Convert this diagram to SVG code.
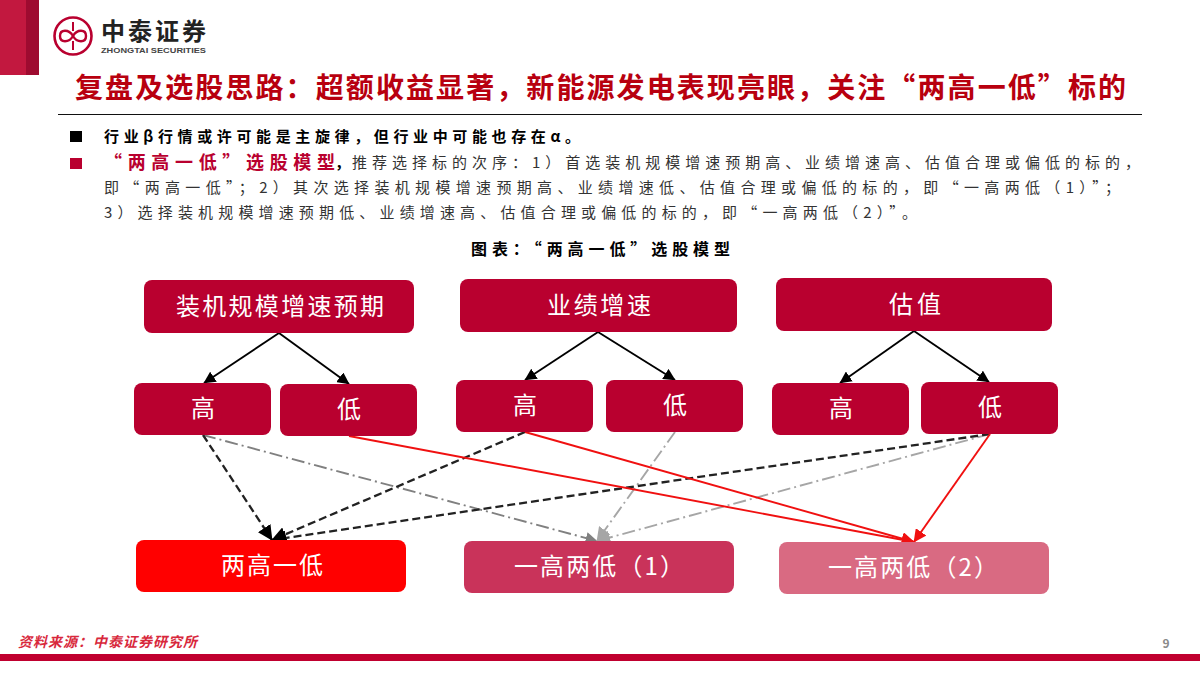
<svg xmlns="http://www.w3.org/2000/svg" width="1200" height="675" viewBox="0 0 1200 675">
<style>
text{font-family:"Noto Sans CJK SC","Liberation Sans",sans-serif}
.box{stroke:none}
.c{fill:#b9002f}
.lab{fill:#fff;font-size:24px;text-anchor:middle}
.body{font-size:15px;fill:#333}
.bold{font-size:15px;font-weight:700;fill:#000}
.conn{fill:none;stroke-width:1.9}
.k{stroke:#000}
.d{stroke:#222;stroke-width:2.300;stroke-dasharray:8 4}
.g1{stroke:#808080;stroke-dasharray:13 4 2 4}
.g2{stroke:#a6a6a6;stroke-dasharray:13 4 2 4}
.r{stroke:#f01010}
</style>
<defs>
<marker id="ak" viewBox="0 0 10 10" refX="9.5" refY="5" markerWidth="12" markerHeight="12" markerUnits="userSpaceOnUse" orient="auto"><path d="M0 0L10 5L0 10z" fill="#000"/></marker>
<marker id="akd" viewBox="0 0 10 10" refX="9.5" refY="5" markerWidth="15" markerHeight="15" markerUnits="userSpaceOnUse" orient="auto"><path d="M0 0L10 5L0 10z" fill="#000"/></marker>
<marker id="ag1" viewBox="0 0 10 10" refX="9.5" refY="5" markerWidth="12" markerHeight="12" markerUnits="userSpaceOnUse" orient="auto"><path d="M0 0L10 5L0 10z" fill="#808080"/></marker>
<marker id="ag2" viewBox="0 0 10 10" refX="9.5" refY="5" markerWidth="14" markerHeight="14" markerUnits="userSpaceOnUse" orient="auto"><path d="M0 0L10 5L0 10z" fill="#a6a6a6"/></marker>
<marker id="ar" viewBox="0 0 10 10" refX="9.5" refY="5" markerWidth="13" markerHeight="13" markerUnits="userSpaceOnUse" orient="auto"><path d="M0 0L10 5L0 10z" fill="#f01010"/></marker>
</defs>
<rect width="1200" height="675" fill="#fff"/>
<rect x="0" y="0" width="26" height="75" fill="#c2183f"/>
<rect x="26" y="0" width="13" height="75" fill="#9e0b30"/>
<g id="logo">
<circle cx="73" cy="36" r="18.500" fill="none" stroke="#b9002f" stroke-width="2.600"/>
<path d="M73 22V31M73 41V50" stroke="#b9002f" stroke-width="2" fill="none"/>
<path d="M73 36C69 29 60 29 60 36C60 43 69 43 73 36C77 29 86 29 86 36C86 43 77 43 73 36Z" fill="none" stroke="#b9002f" stroke-width="2.400"/>
<text x="101" y="40" font-size="24" font-weight="700" fill="#222" textLength="105">中泰证券</text>
<text x="101" y="52.500" font-size="6.500" font-weight="700" fill="#444" textLength="105" lengthAdjust="spacingAndGlyphs" style="font-family:'Liberation Sans',sans-serif">ZHONGTAI SECURITIES</text>
</g>
<text id="title" x="75" y="98" font-size="28" font-weight="700" fill="#b8000f" textLength="1051">复盘及选股思路&#xFF1A;超额收益显著&#xFF0C;新能源发电表现亮眼&#xFF0C;关注&#x201C;两高一低&#x201D;标的</text>
<line x1="58" y1="114.500" x2="1142" y2="114.500" stroke="#111" stroke-width="1.200"/>
<g id="bullets">
<rect x="70" y="131" width="12" height="11" fill="#000"/>
<rect x="70" y="158" width="12" height="11" fill="#b9002f"/>
<text class="bold" x="104" y="142" textLength="476">行业β行情或许可能是主旋律&#xFF0C;但行业中可能也存在α。</text>
<text class="bold" x="104" y="169" style="fill:#b9002f;font-size:18px" textLength="231">&#x201C;两高一低&#x201D;选股模型</text>
<text class="bold" x="335" y="168">&#xFF0C;</text>
<text class="body" x="352" y="168" textLength="788">推荐选择标的次序&#xFF1A;1&#xFF09;首选装机规模增速预期高、业绩增速高、估值合理或偏低的标的&#xFF0C;</text>
<text class="body" x="104" y="193" textLength="1016">即&#x201C;两高一低&#x201D;&#xFF1B;2&#xFF09;其次选择装机规模增速预期高、业绩增速低、估值合理或偏低的标的&#xFF0C;即&#x201C;一高两低&#xFF08;1&#xFF09;&#x201D;&#xFF1B;</text>
<text class="body" x="104" y="218" textLength="813">3&#xFF09;选择装机规模增速预期低、业绩增速高、估值合理或偏低的标的&#xFF0C;即&#x201C;一高两低&#xFF08;2&#xFF09;&#x201D;。</text>
</g>
<text id="caption" x="471" y="255" font-size="16" font-weight="700" fill="#000" textLength="259">图表&#xFF1A;&#x201C;两高一低&#x201D;选股模型</text>
<g id="connectors">
<path class="conn k" d="M279 333L204 383" marker-end="url(#ak)"/>
<path class="conn k" d="M279 333L349 384" marker-end="url(#ak)"/>
<path class="conn k" d="M598 332L525 380" marker-end="url(#ak)"/>
<path class="conn k" d="M598 332L675 380" marker-end="url(#ak)"/>
<path class="conn k" d="M914 331L840 383" marker-end="url(#ak)"/>
<path class="conn k" d="M914 331L989 382" marker-end="url(#ak)"/>
<path class="conn g1" d="M203 435L597 541" marker-end="url(#ag1)"/>
<path class="conn g2" d="M675 432L597 541" marker-end="url(#ag2)"/>
<path class="conn g2" d="M990 434L597 541" marker-end="url(#ag2)"/>
<path class="conn d" d="M203 435L272 540" marker-end="url(#akd)"/>
<path class="conn d" d="M525 432L272 540" marker-end="url(#akd)"/>
<path class="conn d" d="M990 434L272 540" marker-end="url(#akd)"/>
<path class="conn r" d="M349 436L914 542" marker-end="url(#ar)"/>
<path class="conn r" d="M525 432L914 542" marker-end="url(#ar)"/>
<path class="conn r" d="M990 434L914 542" marker-end="url(#ar)"/>
</g>
<g id="n-scale"><rect class="box c" x="144" y="280" width="270" height="53" rx="8"/><text class="lab" x="280" y="315" textLength="208">装机规模增速预期</text></g>
<g id="n-perf"><rect class="box c" x="460" y="279" width="277" height="53" rx="8"/><text class="lab" x="599" y="314" textLength="104">业绩增速</text></g>
<g id="n-val"><rect class="box c" x="776" y="278" width="276" height="53" rx="8"/><text class="lab" x="915" y="313" textLength="52">估值</text></g>
<g id="n-h1"><rect class="box c" x="134" y="383" width="137" height="52" rx="8"/><text class="lab" x="203" y="417">高</text></g>
<g id="n-l1"><rect class="box c" x="280" y="384" width="137" height="52" rx="8"/><text class="lab" x="349" y="418">低</text></g>
<g id="n-h2"><rect class="box c" x="456" y="380" width="137" height="52" rx="8"/><text class="lab" x="525" y="414">高</text></g>
<g id="n-l2"><rect class="box c" x="606" y="380" width="137" height="52" rx="8"/><text class="lab" x="675" y="414">低</text></g>
<g id="n-h3"><rect class="box c" x="772" y="383" width="137" height="52" rx="8"/><text class="lab" x="841" y="417">高</text></g>
<g id="n-l3"><rect class="box c" x="921" y="382" width="137" height="52" rx="8"/><text class="lab" x="990" y="416">低</text></g>
<g id="n-a"><rect class="box" fill="#ff0000" x="136" y="540" width="270" height="52" rx="8"/><text class="lab" x="272" y="574" textLength="102">两高一低</text></g>
<g id="n-b"><rect class="box" fill="#c9335a" x="464" y="541" width="270" height="52" rx="8"/><text class="lab" x="599" y="575" textLength="170">一高两低&#xFF08;1&#xFF09;</text></g>
<g id="n-c"><rect class="box" fill="#d96a82" x="779" y="542" width="270" height="52" rx="8"/><text class="lab" x="913" y="576" textLength="170">一高两低&#xFF08;2&#xFF09;</text></g>
<text id="source" x="18" y="647" font-size="14" font-weight="700" font-style="italic" fill="#d8283c" textLength="179">资料来源&#xFF1A;中泰证券研究所</text>
<rect x="0" y="654" width="1200" height="7" fill="#c0002f"/>
<text id="page" x="1166" y="648" font-size="12" font-weight="700" fill="#8a8a8a" text-anchor="middle">9</text>
</svg>
